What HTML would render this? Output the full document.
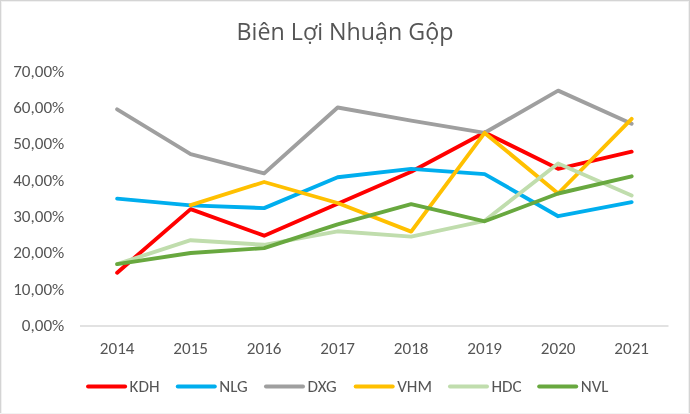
<!DOCTYPE html>
<html><head><meta charset="utf-8"><title>Biên Lợi Nhuận Gộp</title><style>
html,body{margin:0;padding:0;background:#fff;}
body{width:690px;height:414px;overflow:hidden;}
svg{display:block;will-change:transform;}
text{font-family:"Carlito", "Liberation Sans", sans-serif;fill:#555555;font-size-adjust:0.4775;}
.t{font-family:"Open Sans", "Liberation Sans", sans-serif;font-size-adjust:0.535;}
</style></head><body>
<svg width="690" height="414" viewBox="0 0 690 414">
<rect x="1" y="1" width="688" height="1" fill="#F1F1F1"/><rect x="1" y="1" width="1" height="412" fill="#F1F1F1"/><rect x="688" y="1" width="1" height="412" fill="#F1F1F1"/><rect x="0" y="0" width="690" height="1" fill="#D4D4D4"/><rect x="0" y="0" width="1" height="414" fill="#D4D4D4"/><rect x="689" y="0" width="1" height="414" fill="#D4D4D4"/><rect x="0" y="413" width="690" height="1" fill="#F3F3F3"/>
<text class="t" x="345" y="40.1" text-anchor="middle" font-size="23.25" textLength="216.86" lengthAdjust="spacingAndGlyphs">Biên Lợi Nhuận Gộp</text>
<g font-size="17.1">
<text x="64.3" y="331.10" text-anchor="end" textLength="42.48" lengthAdjust="spacingAndGlyphs">0,00%</text>
<text x="64.3" y="294.74" text-anchor="end" textLength="51.14" lengthAdjust="spacingAndGlyphs">10,00%</text>
<text x="64.3" y="258.39" text-anchor="end" textLength="51.14" lengthAdjust="spacingAndGlyphs">20,00%</text>
<text x="64.3" y="222.03" text-anchor="end" textLength="51.14" lengthAdjust="spacingAndGlyphs">30,00%</text>
<text x="64.3" y="185.67" text-anchor="end" textLength="51.14" lengthAdjust="spacingAndGlyphs">40,00%</text>
<text x="64.3" y="149.31" text-anchor="end" textLength="51.14" lengthAdjust="spacingAndGlyphs">50,00%</text>
<text x="64.3" y="112.96" text-anchor="end" textLength="51.14" lengthAdjust="spacingAndGlyphs">60,00%</text>
<text x="64.3" y="76.60" text-anchor="end" textLength="51.14" lengthAdjust="spacingAndGlyphs">70,00%</text>
</g>
<line x1="80" y1="326" x2="668.5" y2="326" stroke="#D9D9D9" stroke-width="1.5"/>
<g font-size="17.1">
<text x="117.15" y="353.5" text-anchor="middle" textLength="34.66" lengthAdjust="spacingAndGlyphs">2014</text>
<text x="190.65" y="353.5" text-anchor="middle" textLength="34.66" lengthAdjust="spacingAndGlyphs">2015</text>
<text x="264.15" y="353.5" text-anchor="middle" textLength="34.66" lengthAdjust="spacingAndGlyphs">2016</text>
<text x="337.65" y="353.5" text-anchor="middle" textLength="34.66" lengthAdjust="spacingAndGlyphs">2017</text>
<text x="411.15" y="353.5" text-anchor="middle" textLength="34.66" lengthAdjust="spacingAndGlyphs">2018</text>
<text x="484.65" y="353.5" text-anchor="middle" textLength="34.66" lengthAdjust="spacingAndGlyphs">2019</text>
<text x="558.15" y="353.5" text-anchor="middle" textLength="34.66" lengthAdjust="spacingAndGlyphs">2020</text>
<text x="631.65" y="353.5" text-anchor="middle" textLength="34.66" lengthAdjust="spacingAndGlyphs">2021</text>
</g>
<g fill="none" stroke-width="3.9" stroke-linecap="round" stroke-linejoin="round">
<polyline points="117.15,272.70 190.65,209.10 264.15,235.70 337.65,203.80 411.15,171.70 484.65,132.50 558.15,168.80 631.65,151.70" stroke="#FF0000"/>
<polyline points="117.15,198.60 190.65,205.40 264.15,208.10 337.65,177.30 411.15,168.85 484.65,174.10 558.15,216.20 631.65,202.10" stroke="#00AEEE"/>
<polyline points="117.15,109.30 190.65,154.10 264.15,173.40 337.65,107.50 411.15,120.60 484.65,132.80 558.15,90.60 631.65,123.80" stroke="#9F9F9F"/>
<polyline points="190.65,205.10 264.15,182.00 337.65,203.00 411.15,231.60 484.65,132.90 558.15,193.50 631.65,118.80" stroke="#FFC000"/>
<polyline points="117.15,264.10 190.65,240.20 264.15,244.80 337.65,231.30 411.15,236.60 484.65,220.80 558.15,163.50 631.65,195.50" stroke="#C0DDAD"/>
<polyline points="117.15,264.10 190.65,253.00 264.15,248.10 337.65,224.40 411.15,204.10 484.65,221.30 558.15,193.50 631.65,176.30" stroke="#68A83F"/>
</g>
<g stroke-width="3.9" stroke-linecap="round" font-size="17.0">
<line x1="88.05" y1="386.5" x2="125.15" y2="386.5" stroke="#FF0000"/><text x="129.60" y="391.5" textLength="29.89" lengthAdjust="spacingAndGlyphs">KDH</text>
<line x1="177.75" y1="386.5" x2="214.85" y2="386.5" stroke="#00AEEE"/><text x="219.30" y="391.5" textLength="28.47" lengthAdjust="spacingAndGlyphs">NLG</text>
<line x1="265.95" y1="386.5" x2="303.05" y2="386.5" stroke="#9F9F9F"/><text x="307.50" y="391.5" textLength="29.22" lengthAdjust="spacingAndGlyphs">DXG</text>
<line x1="355.65" y1="386.5" x2="392.75" y2="386.5" stroke="#FFC000"/><text x="397.20" y="391.5" textLength="34.78" lengthAdjust="spacingAndGlyphs">VHM</text>
<line x1="449.95" y1="386.5" x2="487.05" y2="386.5" stroke="#C0DDAD"/><text x="491.50" y="391.5" textLength="30.12" lengthAdjust="spacingAndGlyphs">HDC</text>
<line x1="539.15" y1="386.5" x2="576.25" y2="386.5" stroke="#68A83F"/><text x="580.70" y="391.5" textLength="27.78" lengthAdjust="spacingAndGlyphs">NVL</text>
</g>
</svg>
</body></html>
